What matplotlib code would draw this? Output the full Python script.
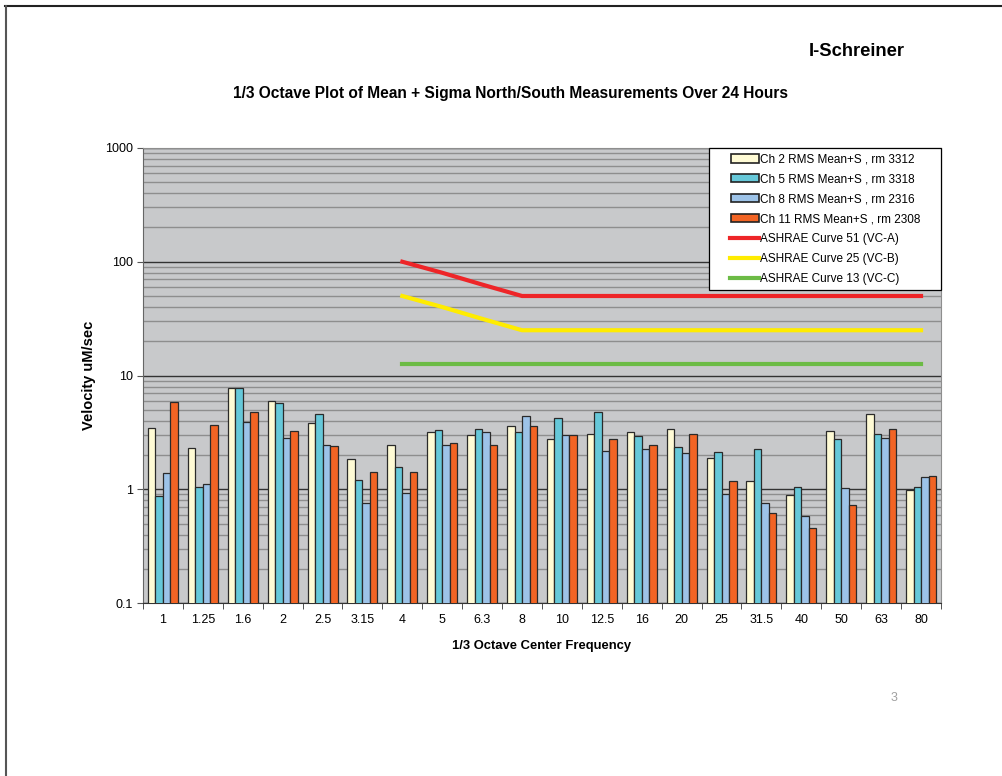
import numpy as np
import matplotlib
matplotlib.use("Agg")
import matplotlib.pyplot as plt
from matplotlib.lines import Line2D
from matplotlib.patches import Patch
from matplotlib.legend_handler import HandlerPatch, HandlerLine2D

plt.rcParams['font.family'] = ['Liberation Sans', 'DejaVu Sans']

# 1/3 octave center frequencies (Hz)
freqs = ['1', '1.25', '1.6', '2', '2.5', '3.15', '4', '5', '6.3', '8',
         '10', '12.5', '16', '20', '25', '31.5', '40', '50', '63', '80']

# mean + sigma velocity per channel (uM/sec)
ch2 = [3.49, 2.29, 7.84, 5.91, 3.83, 1.85, 2.47, 3.19, 2.97, 3.61,
       2.77, 3.06, 3.17, 3.37, 1.88, 1.18, 0.89, 3.28, 4.59, 0.99]
ch5 = [0.87, 1.05, 7.84, 5.79, 4.57, 1.21, 1.56, 3.30, 3.40, 3.19,
       4.21, 4.78, 2.91, 2.33, 2.13, 2.26, 1.04, 2.77, 3.06, 1.05]
ch8 = [1.38, 1.11, 3.94, 2.83, 2.45, 0.76, 0.93, 2.45, 3.19, 4.45,
       2.97, 2.19, 2.26, 2.07, 0.90, 0.76, 0.58, 1.03, 2.83, 1.27]
ch11 = [5.82, 3.65, 4.75, 3.24, 2.42, 1.41, 1.42, 2.55, 2.45, 3.61,
        3.00, 2.74, 2.47, 3.06, 1.19, 0.62, 0.46, 0.73, 3.42, 1.32]

# ASHRAE vibration criteria curves, defined from 4 Hz up
nan = np.nan
vc_a = [nan] * 6 + [100, 80, 63] + [50] * 11
vc_b = [nan] * 6 + [50, 40, 31.5] + [25] * 11
vc_c = [nan] * 6 + [12.5] * 14

bar_names = ['Ch 2 RMS Mean+S , rm 3312', 'Ch 5 RMS Mean+S , rm 3318',
             'Ch 8 RMS Mean+S , rm 2316', 'Ch 11 RMS Mean+S , rm 2308']
bar_colors = ['#FFFBD5', '#66C8D9', '#9DC3E8', '#F26424']
line_names = ['ASHRAE Curve 51 (VC-A)', 'ASHRAE Curve 25 (VC-B)', 'ASHRAE Curve 13 (VC-C)']
line_colors = ['#EE2528', '#FFEC00', '#6CBB45']

fig = plt.figure(figsize=(10.02, 7.76), dpi=100)
ax = fig.add_axes([0.1427, 0.2229, 0.7964, 0.5864])
ax.set_facecolor('#C8C9CB')

x = np.arange(len(freqs))
w = 0.188
for i, (vals, c) in enumerate(zip([ch2, ch5, ch8, ch11], bar_colors)):
    ax.bar(x + (i - 1.5) * w, vals, width=w, color=c, edgecolor='#2A2A2A',
           linewidth=0.9, zorder=3)

for vals, c in zip([vc_a, vc_b, vc_c], line_colors):
    ax.plot(x, vals, color=c, linewidth=3, zorder=4)

ax.set_yscale('log')
ax.set_ylim(0.1, 1000)
ax.set_xlim(-0.5, len(freqs) - 0.5)

ax.set_yticks([0.1, 1, 10, 100, 1000])
ax.set_yticklabels(['0.1', '1', '10', '100', '1000'])
ax.yaxis.set_minor_locator(matplotlib.ticker.LogLocator(base=10, subs=np.arange(2, 10)))
ax.yaxis.set_minor_formatter(matplotlib.ticker.NullFormatter())
ax.grid(True, which='major', axis='y', color='#333333', linewidth=1.0, zorder=1)
ax.grid(True, which='minor', axis='y', color='#8E8E8E', linewidth=1.0, zorder=1)
ax.set_axisbelow(True)
ax.tick_params(axis='y', which='major', direction='out', length=4, labelsize=9, color='#555555')
ax.tick_params(axis='y', which='minor', length=0)

ax.set_xticks(x)
ax.set_xticklabels(freqs)
ax.set_xticks(np.arange(len(freqs) + 1) - 0.5, minor=True)
ax.tick_params(axis='x', which='major', length=0, labelsize=9, pad=8)
ax.tick_params(axis='x', which='minor', direction='out', length=4, color='#333333')

for side in ['top', 'right']:
    ax.spines[side].set_color('#8E8E8E')
ax.spines['left'].set_color('#666666')
ax.spines['bottom'].set_color('#333333')

ax.set_ylabel('Velocity uM/sec', fontsize=10.5, fontweight='bold', labelpad=6)
ax.set_xlabel('1/3 Octave Center Frequency', fontsize=9.4, fontweight='bold', labelpad=10)

# legend: handles indented from the left edge, box stretched to a fixed width
handles = [Patch(facecolor=c, edgecolor='#222222', linewidth=1.2) for c in bar_colors]
handles += [Line2D([0], [0], color=c, linewidth=3) for c in line_colors]
hmap = {Patch: HandlerPatch(xpad=1.45), Line2D: HandlerLine2D(xpad=1.35)}
leg = ax.legend(handles, bar_names + line_names, loc='upper left',
                bbox_to_anchor=(0.7093, 0.0, 0.2907, 1.0), mode='expand',
                handler_map=hmap, fontsize=8.5, frameon=True,
                fancybox=False, edgecolor='black', framealpha=1,
                handlelength=3.75, handleheight=0.75, handletextpad=0.15,
                labelspacing=0.67, borderpad=0.45, borderaxespad=0)
leg.get_frame().set_linewidth(0.9)

fig.text(0.509, 0.880, '1/3 Octave Plot of Mean + Sigma North/South Measurements Over 24 Hours',
         ha='center', va='center', fontsize=11.2, fontweight='bold')
fig.text(0.903, 0.933, 'I-Schreiner', ha='right', va='center', fontsize=13.2, fontweight='bold')
fig.text(0.892, 0.101, '3', ha='center', va='center', fontsize=9, color='#A0A0A0')

# page border lines (top and left)
fig.add_artist(Line2D([0.005, 1.0], [0.992, 0.992], color='#222222', linewidth=1.5))
fig.add_artist(Line2D([0.006, 0.006], [0.0, 0.992], color='#555555', linewidth=1.5))

fig.savefig('out.png', dpi=100)
